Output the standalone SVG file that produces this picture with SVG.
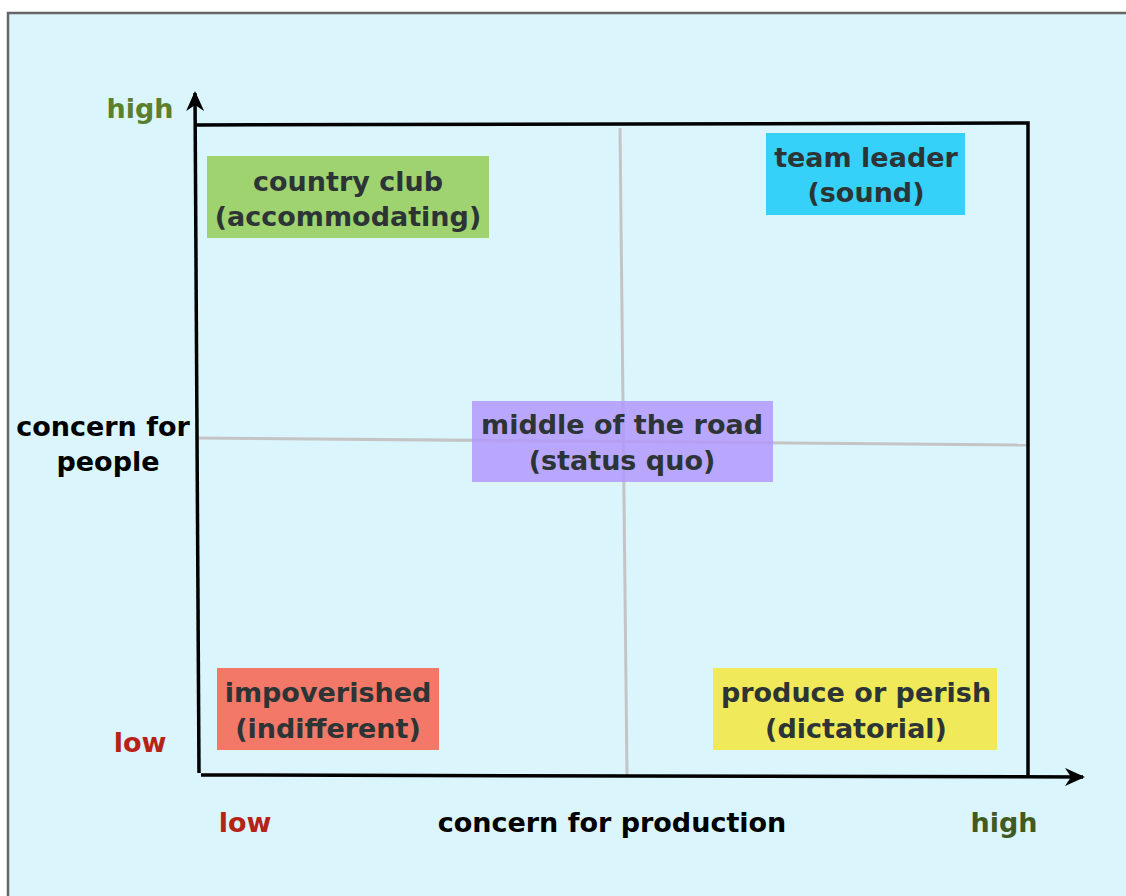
<svg xmlns="http://www.w3.org/2000/svg" width="1126" height="896" viewBox="0 0 1126 896">
<style>
text{font-family:"DejaVu Sans","Liberation Sans",sans-serif;font-weight:bold;font-size:27px;text-anchor:middle}
.box{fill:#2d3436}
.ax{stroke:#000;stroke-width:3.5;fill:none}
.grid{stroke:#c4c4c4;stroke-width:3;fill:none}
.lbl{fill:#000}
.low{fill:#b52216}
.hi1{fill:#5a7f2e}
.hi2{fill:#3f5a22}
</style>
<defs>
<marker id="ah" viewBox="0 0 20 18" refX="18" refY="9" markerWidth="20" markerHeight="18" markerUnits="userSpaceOnUse" orient="auto">
<path d="M0,0 L20,9 L0,18 L6,9 Z" fill="#000"/>
</marker>
</defs>
<rect x="0" y="0" width="1126" height="896" fill="#fff"/>
<rect x="8" y="13" width="1130" height="900" fill="#dbf5fc" stroke="#666" stroke-width="2.5"/>
<g id="connectors">
<path class="grid" d="M620,128 L627,776"/>
<path class="grid" d="M198,438 L1030,445"/>
<path class="ax" d="M195,125 L1028,123 L1028,775"/>
<path class="ax" d="M199,773 L195,93" marker-end="url(#ah)"/>
<path class="ax" d="M201,775 L1083,777" marker-end="url(#ah)"/>
</g>
<g id="country-club">
<rect x="207" y="156" width="282" height="82" fill="#9ed36f"/>
<text x="348" y="191" class="box">country club</text>
<text x="348" y="226" class="box">(accommodating)</text>
</g>
<g id="team-leader">
<rect x="766" y="133" width="199" height="82" fill="#35d1f9"/>
<text x="866" y="167" class="box">team leader</text>
<text x="866" y="202" class="box">(sound)</text>
</g>
<g id="middle-of-the-road">
<rect x="472" y="401" width="301" height="81" fill="#b199fb" fill-opacity="0.85"/>
<text x="622" y="434" class="box">middle of the road</text>
<text x="622" y="470" class="box">(status quo)</text>
</g>
<g id="impoverished">
<rect x="217" y="668" width="222" height="82" fill="#f47868"/>
<text x="328" y="702" class="box">impoverished</text>
<text x="328" y="738" class="box">(indifferent)</text>
</g>
<g id="produce-or-perish">
<rect x="713" y="668" width="284" height="82" fill="#f0ea5a"/>
<text x="856" y="702" class="box">produce or perish</text>
<text x="856" y="738" class="box">(dictatorial)</text>
</g>
<g id="labels">
<text x="140" y="118" class="hi1">high</text>
<text x="103" y="436" class="lbl">concern for</text>
<text x="108" y="471" class="lbl">people</text>
<text x="140" y="752" class="low">low</text>
<text x="245" y="832" class="low">low</text>
<text x="612" y="832" class="lbl">concern for production</text>
<text x="1004" y="832" class="hi2">high</text>
</g>
</svg>
